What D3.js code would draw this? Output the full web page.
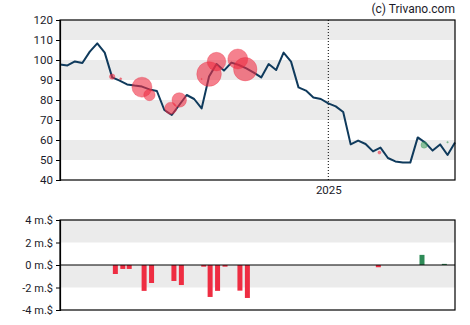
<!DOCTYPE html>
<html>
<head>
<meta charset="utf-8">
<script src="https://cdn.jsdelivr.net/npm/d3@7/dist/d3.min.js"></script>
<style>
  html, body { margin: 0; padding: 0; background: #fff; }
  svg { display: block; font-family: Roboto, "Liberation Sans", sans-serif; }
</style>
</head>
<body>
<svg id="chart" width="470" height="325"></svg>
<script>
// Weekly closing prices
const startDate = "2024-04-24";
const prices = [
  97.8, 97.3, 99.3, 98.5, 104.2, 108.3, 103.7, 91.3, 89.7, 87.8,
  87.2, 86.7, 85.3, 84.5, 75.0, 72.5, 77.5, 82.5, 80.5, 75.8,
  91.7, 98.0, 94.7, 98.7, 97.5, 95.8, 93.7, 91.3, 98.0, 95.0,
  103.7, 99.2, 86.3, 84.7, 81.3, 80.5, 78.3, 76.8, 74.0, 57.8,
  59.7, 58.0, 54.3, 56.2, 51.0, 49.3, 48.7, 48.7, 61.3, 58.7,
  54.7, 57.8, 52.5, 58.7
];

// Insider trades: date, price, value (m.$), type
const tradeDates = [
  "2024-06-12", "2024-06-20", "2024-07-10", "2024-07-17", "2024-08-06",
  "2024-08-14", "2024-09-04", "2024-09-11", "2024-09-18", "2024-10-08",
  "2024-10-15", "2025-02-18", "2025-04-01", "2025-04-23"
];
const tradePrices = [91.7, 90.6, 86.4, 82.5, 75.9, 80.0, 90.5, 93.0, 99.2, 100.5, 95.4, 53.7, 57.5, 58.9];
const tradeValues = [0.137, 0.019, 1.88, 0.61, 0.68, 1.0, 0.007, 2.84, 1.62, 1.88, 2.57, 0.042, 0.19, 0.012];
const tradeTypes = ["sell", "sell", "sell", "sell", "sell", "sell", "sell", "sell", "sell", "sell", "sell", "sell", "buy", "buy"];

// Weekly net insider flow (m.$)
const flowDates = [
  "2024-06-15", "2024-06-22", "2024-06-28", "2024-07-12", "2024-07-19",
  "2024-08-09", "2024-08-16", "2024-09-06", "2024-09-12", "2024-09-19",
  "2024-09-26", "2024-10-10", "2024-10-17", "2025-02-17", "2025-03-30",
  "2025-04-20"
];
const flowValues = [-0.8, -0.35, -0.35, -2.3, -1.6, -1.42, -1.78, -0.15, -2.84, -2.3, -0.15, -2.28, -2.93, -0.2, 0.9, 0.1];

const priceTicks = [40, 50, 60, 70, 80, 90, 100, 110, 120];
const flowTicks = [-4, -2, 0, 2, 4];
const yearMarks = ["2025-01-01"];
const yearLabels = ["2025"];

const parse = d3.utcParse("%Y-%m-%d");
const t0 = parse(startDate);
const dates = prices.map((_, i) => d3.utcDay.offset(t0, 7 * i));

const svg = d3.select("#chart");
const L = 60, R = 455;
const top1 = 20, bot1 = 180, top2 = 220, bot2 = 310;

const x = d3.scaleUtc().domain([dates[0], dates[dates.length - 1]]).range([L, R]);
const y = d3.scaleLinear().domain([40, 120]).range([bot1, top1]);
const y2 = d3.scaleLinear().domain([-4, 4]).range([bot2, top2]);

const band = "#ebebeb";
const textCol = "#1b1b2a";

// Price panel background bands
const bandPairs = d3.pairs(priceTicks).filter((_, i) => i % 2 === 1);
svg.append("g").selectAll("rect").data(bandPairs).join("rect")
  .attr("x", L).attr("width", R - L)
  .attr("y", d => y(d[1])).attr("height", d => y(d[0]) - y(d[1]))
  .attr("fill", band);

// Year separator
svg.append("g").selectAll("line").data(yearMarks).join("line")
  .attr("x1", d => x(parse(d))).attr("x2", d => x(parse(d)))
  .attr("y1", top1).attr("y2", bot1)
  .attr("stroke", "#000").attr("stroke-width", 1)
  .attr("stroke-dasharray", "1,2");

// Price line
const line = d3.line().x((d, i) => x(dates[i])).y(d => y(d));
svg.append("path").datum(prices)
  .attr("d", line)
  .attr("fill", "none")
  .attr("stroke", "#0f3a5c")
  .attr("stroke-width", 2)
  .attr("stroke-linejoin", "round");

// Trade bubbles
const rScale = d3.scaleSqrt().domain([0, 1]).range([0, 7.3]);
const trades = tradeDates.map((d, i) => ({ date: parse(d), price: tradePrices[i], value: tradeValues[i], type: tradeTypes[i] }));
svg.append("g").selectAll("circle").data(trades).join("circle")
  .attr("cx", d => x(d.date))
  .attr("cy", d => y(d.price))
  .attr("r", d => rScale(d.value))
  .attr("fill", d => d.type === "sell" ? "#ee2d42" : "#3a9a5a")
  .attr("fill-opacity", d => d.type === "sell" ? 0.6 : 0.55)
  .attr("stroke", d => d.type === "sell" ? "#e8283e" : "#3a9a5a")
  .attr("stroke-opacity", 0.5)
  .attr("stroke-width", 0.6);

// Price panel frame
svg.append("rect").attr("x", L).attr("y", top1).attr("width", R - L).attr("height", bot1 - top1)
  .attr("fill", "none").attr("stroke", "#000").attr("stroke-width", 1.2);

// Price axis
const yAxis = svg.append("g").attr("transform", `translate(${L},0)`)
  .call(d3.axisLeft(y).tickValues(priceTicks).tickSize(4).tickPadding(3).tickFormat(d3.format("d")));
yAxis.select(".domain").attr("stroke", "#000").attr("stroke-width", 1.2);
yAxis.selectAll("line").attr("stroke", "#000");
yAxis.selectAll("text").attr("fill", textCol).style("font-size", "11.5px").style("font-family", "Roboto, sans-serif");

// Time axis
const xAxis = svg.append("g").attr("transform", `translate(0,${bot1})`)
  .call(d3.axisBottom(x).tickValues(yearMarks.map(parse)).tickSize(0).tickPadding(6)
    .tickFormat((d, i) => yearLabels[i]));
xAxis.select(".domain").remove();
xAxis.selectAll("text").attr("fill", textCol).style("font-size", "11.5px").style("font-family", "Roboto, sans-serif");

// Copyright
svg.append("text").attr("x", R).attr("y", 13).attr("text-anchor", "end")
  .attr("fill", textCol).style("font-size", "12px").text("(c) Trivano.com");

// Flow panel background bands
const flowBands = [[2, 4], [-2, 0]];
svg.append("g").selectAll("rect").data(flowBands).join("rect")
  .attr("x", L).attr("width", R - L)
  .attr("y", d => y2(d[1])).attr("height", d => y2(d[0]) - y2(d[1]))
  .attr("fill", band);

// Flow bars
const flows = flowDates.map((d, i) => ({ date: parse(d), value: flowValues[i] }));
svg.append("g").selectAll("rect").data(flows).join("rect")
  .attr("x", d => x(d.date) - 2.5)
  .attr("width", 5)
  .attr("y", d => y2(Math.max(0, d.value)))
  .attr("height", d => Math.abs(y2(d.value) - y2(0)))
  .attr("fill", d => d.value < 0 ? "#ee2d42" : "#2e8b57");

// Zero line
svg.append("line").attr("x1", L).attr("x2", R).attr("y1", y2(0)).attr("y2", y2(0))
  .attr("stroke", "#000").attr("stroke-width", 1.2);

// Flow panel frame
svg.append("rect").attr("x", L).attr("y", top2).attr("width", R - L).attr("height", bot2 - top2)
  .attr("fill", "none").attr("stroke", "#000").attr("stroke-width", 1.2);

const y2Axis = svg.append("g").attr("transform", `translate(${L},0)`)
  .call(d3.axisLeft(y2).tickValues(flowTicks).tickSize(4).tickPadding(3).tickFormat(d => d + " m.$"));
y2Axis.select(".domain").attr("stroke", "#000").attr("stroke-width", 1.2);
y2Axis.selectAll("line").attr("stroke", "#000");
y2Axis.selectAll("text").attr("fill", textCol).style("font-size", "11px").style("font-family", "Roboto, sans-serif");
</script>
</body>
</html>
